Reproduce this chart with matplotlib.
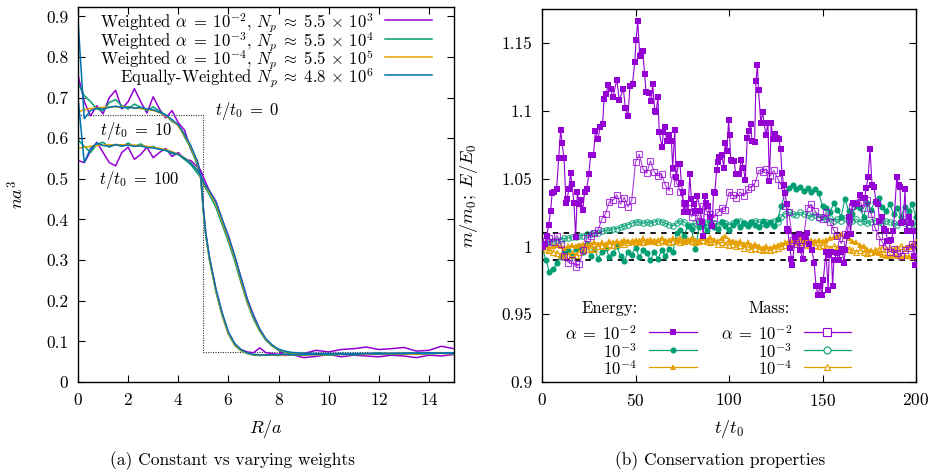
import numpy as np
import matplotlib
matplotlib.use("Agg")
import matplotlib.pyplot as plt

plt.rcParams.update({
    "font.family": "serif",
    "font.serif": ["cmr10", "DejaVu Serif"],
    "mathtext.fontset": "cm",
    "axes.formatter.use_mathtext": True,
    "font.size": 12.5,
})

PURPLE = "#9400D3"
GREEN = "#009E73"
ORANGE = "#E69F00"
BLUE = "#0072B2"

# ---------------- (a) density profiles ----------------
R_grid = [0, 0.25, 0.5, 0.75, 1.0, 1.25, 1.5, 1.75, 2.0, 2.25,
          2.5, 2.75, 3.0, 3.25, 3.5, 3.75, 4.0, 4.25, 4.5, 4.75,
          4.9, 5.0, 5.1, 5.25, 5.5, 5.75, 6.0, 6.25, 6.5, 6.75,
          7.0, 7.25, 7.5, 7.75, 8.0, 8.25, 8.5, 9.0, 9.5, 10.0,
          10.5, 11.0, 11.5, 12.0, 12.5, 13.0, 13.5, 14.0, 14.5, 15.0]

R_init = [0, 5, 5, 15]
n_init = [0.658, 0.658, 0.073, 0.073]

pu10 = [0.756, 0.690, 0.655, 0.680, 0.660, 0.700, 0.718, 0.672, 0.690, 0.722,
        0.690, 0.662, 0.702, 0.672, 0.650, 0.668, 0.638, 0.620, 0.572, 0.545,
        0.515, 0.430, 0.365, 0.305, 0.228, 0.170, 0.118, 0.094, 0.080, 0.074,
        0.072, 0.084, 0.072, 0.070, 0.068, 0.075, 0.066, 0.070, 0.078, 0.074,
        0.080, 0.082, 0.086, 0.080, 0.082, 0.085, 0.076, 0.078, 0.088, 0.082]
gr10 = [0.735, 0.705, 0.690, 0.672, 0.668, 0.688, 0.695, 0.680, 0.672, 0.684,
        0.676, 0.668, 0.677, 0.667, 0.657, 0.641, 0.633, 0.603, 0.575, 0.535,
        0.498, 0.418, 0.358, 0.298, 0.222, 0.163, 0.118, 0.090, 0.077, 0.070,
        0.066, 0.065, 0.067, 0.066, 0.065, 0.068, 0.067, 0.066, 0.069, 0.067,
        0.070, 0.068, 0.069, 0.071, 0.068, 0.070, 0.069, 0.071, 0.072, 0.070]
or10 = [0.665, 0.670, 0.673, 0.675, 0.676, 0.677, 0.677, 0.677, 0.676, 0.675,
        0.673, 0.671, 0.668, 0.663, 0.655, 0.644, 0.630, 0.607, 0.578, 0.540,
        0.500, 0.420, 0.360, 0.300, 0.225, 0.165, 0.120, 0.092, 0.078, 0.071,
        0.067, 0.066, 0.066, 0.066, 0.066, 0.067, 0.067, 0.067, 0.067, 0.068,
        0.068, 0.068, 0.068, 0.069, 0.069, 0.069, 0.069, 0.070, 0.070, 0.070]
bl10 = [0.890, 0.648, 0.668, 0.674, 0.672, 0.676, 0.679, 0.675, 0.677, 0.674,
        0.676, 0.672, 0.670, 0.664, 0.657, 0.646, 0.633, 0.610, 0.582, 0.545,
        0.505, 0.425, 0.365, 0.305, 0.230, 0.170, 0.124, 0.095, 0.080, 0.072,
        0.068, 0.067, 0.066, 0.067, 0.067, 0.068, 0.067, 0.068, 0.068, 0.069,
        0.069, 0.068, 0.070, 0.069, 0.070, 0.070, 0.071, 0.070, 0.071, 0.071]

pu100 = [0.545, 0.540, 0.568, 0.590, 0.565, 0.540, 0.532, 0.565, 0.578, 0.548,
         0.560, 0.578, 0.552, 0.565, 0.575, 0.555, 0.565, 0.548, 0.545, 0.530,
         0.520, 0.505, 0.490, 0.470, 0.445, 0.400, 0.360, 0.310, 0.258, 0.205,
         0.165, 0.130, 0.105, 0.090, 0.078, 0.065, 0.068, 0.060, 0.063, 0.068,
         0.062, 0.066, 0.064, 0.062, 0.066, 0.064, 0.060, 0.066, 0.064, 0.068]
gr100 = [0.596, 0.580, 0.565, 0.585, 0.590, 0.578, 0.585, 0.580, 0.588, 0.580,
         0.586, 0.577, 0.580, 0.573, 0.570, 0.562, 0.560, 0.548, 0.535, 0.515,
         0.503, 0.487, 0.476, 0.460, 0.430, 0.388, 0.345, 0.298, 0.245, 0.195,
         0.155, 0.125, 0.102, 0.088, 0.078, 0.073, 0.070, 0.067, 0.068, 0.066,
         0.068, 0.067, 0.069, 0.068, 0.070, 0.069, 0.068, 0.070, 0.071, 0.070]
or100 = [0.575, 0.578, 0.580, 0.582, 0.583, 0.584, 0.584, 0.584, 0.584, 0.583,
         0.582, 0.580, 0.578, 0.575, 0.572, 0.567, 0.561, 0.552, 0.540, 0.522,
         0.508, 0.490, 0.480, 0.465, 0.438, 0.395, 0.352, 0.305, 0.250, 0.198,
         0.158, 0.127, 0.104, 0.089, 0.080, 0.075, 0.072, 0.070, 0.069, 0.069,
         0.069, 0.069, 0.069, 0.070, 0.070, 0.070, 0.070, 0.071, 0.071, 0.071]
bl100 = [0.700, 0.540, 0.575, 0.588, 0.582, 0.580, 0.584, 0.581, 0.583, 0.580,
         0.581, 0.577, 0.576, 0.573, 0.570, 0.565, 0.560, 0.551, 0.539, 0.522,
         0.509, 0.493, 0.483, 0.469, 0.443, 0.401, 0.358, 0.311, 0.256, 0.204,
         0.162, 0.130, 0.106, 0.091, 0.081, 0.076, 0.073, 0.071, 0.070, 0.070,
         0.070, 0.070, 0.070, 0.071, 0.070, 0.071, 0.071, 0.072, 0.071, 0.072]

legend_a = [r"Weighted $\alpha\;=\;10^{-2}$, $N_p\;\approx\;5.5\,\times\,10^{3}$",
            r"Weighted $\alpha\;=\;10^{-3}$, $N_p\;\approx\;5.5\,\times\,10^{4}$",
            r"Weighted $\alpha\;=\;10^{-4}$, $N_p\;\approx\;5.5\,\times\,10^{5}$",
            r"Equally-Weighted $N_p\;\approx\;4.8\,\times\,10^{6}$"]

# ---------------- (b) conservation ----------------
t_e2 = [0, 1.4, 2.5, 3.6, 4.6, 5.4, 6.5, 7.8, 8.9, 10.0,
        10.7, 11.8, 12.8, 13.5, 14.3, 15.3, 16.0, 17.1, 18.0, 18.9,
        19.8, 20.7, 21.8, 22.8, 23.9, 25.0, 26.0, 27.5, 28.5, 30.0,
        31.0, 32.4, 33.2, 34.3, 35.3, 36.7, 38.0, 40.0, 41.3, 43.5,
        44.6, 46.0, 47.0, 48.4, 49.6, 50.3, 51.2, 52.3, 53.1, 53.8,
        54.9, 55.6, 57.0, 58.5, 59.2, 60.3, 61.0, 62.0, 62.7, 64.2,
        64.9, 65.6, 66.7, 67.7, 69.2, 69.9, 71.0, 71.7, 73.1, 73.8,
        74.5, 75.2, 75.8, 76.7, 78.1, 79.0, 79.9, 81.3, 82.0, 83.1,
        84.7, 85.6, 86.2, 87.0, 87.7, 88.8, 90.0, 90.9, 91.8, 92.3,
        93.4, 94.1, 94.8, 96.3, 97.2, 98.0, 98.9, 99.8, 100.3, 100.9,
        101.6, 102.7, 103.7, 105.2, 106.6, 107.7, 108.7, 109.8, 110.5, 111.6,
        112.3, 113.7, 114.4, 115.2, 115.8, 117.0, 118.0, 118.7, 119.8, 120.8,
        121.6, 122.6, 123.3, 124.4, 125.5, 126.6, 127.6, 128.3, 129.4, 130.1,
        130.8, 131.2, 131.5, 132.6, 133.3, 133.7, 135.5, 137.2, 138.0, 139.4,
        140.8, 141.9, 143.0, 144.4, 145.5, 146.5, 147.6, 148.7, 149.7, 150.4,
        151.9, 153.0, 153.6, 154.7, 155.4, 156.1, 157.6, 158.7, 159.7, 160.4,
        161.5, 162.2, 163.2, 164.3, 165.0, 166.1, 167.2, 168.6, 170.0, 171.5,
        172.6, 173.3, 174.4, 175.4, 176.5, 177.5, 178.6, 179.7, 180.4, 181.8,
        182.9, 184.0, 184.7, 185.8, 186.8, 187.9, 189.7, 190.8, 191.4, 192.1,
        193.2, 194.1, 195.0, 196.1, 197.2, 198.6, 199.0, 199.7]
E_a2 = [1.000, 1.002, 1.008, 1.016, 1.026, 1.039, 1.040, 1.042, 1.065, 1.086,
        1.076, 1.065, 1.032, 1.035, 1.042, 1.054, 1.046, 1.032, 1.007, 1.040,
        1.031, 1.034, 1.027, 1.040, 1.042, 1.053, 1.067, 1.067, 1.085, 1.079,
        1.088, 1.090, 1.109, 1.112, 1.119, 1.116, 1.110, 1.123, 1.108, 1.116,
        1.102, 1.096, 1.118, 1.120, 1.136, 1.152, 1.166, 1.140, 1.141, 1.144,
        1.127, 1.114, 1.113, 1.107, 1.120, 1.100, 1.099, 1.110, 1.084, 1.073,
        1.084, 1.088, 1.078, 1.082, 1.078, 1.058, 1.086, 1.051, 1.061, 1.061,
        1.047, 1.040, 1.025, 1.032, 1.025, 1.053, 1.035, 1.031, 1.026, 1.037,
        1.026, 1.018, 1.008, 1.037, 1.032, 1.030, 1.022, 1.015, 1.040, 1.039,
        1.056, 1.062, 1.066, 1.067, 1.058, 1.076, 1.070, 1.093, 1.082, 1.064,
        1.063, 1.063, 1.053, 1.053, 1.064, 1.058, 1.049, 1.080, 1.085, 1.090,
        1.078, 1.077, 1.122, 1.134, 1.115, 1.091, 1.099, 1.091, 1.082, 1.091,
        1.048, 1.091, 1.079, 1.083, 1.080, 1.079, 1.072, 1.054, 1.045, 1.039,
        1.031, 1.013, 1.011, 0.999, 0.991, 0.986, 1.007, 1.009, 0.997, 0.991,
        1.007, 1.010, 1.002, 0.997, 0.988, 0.971, 0.964, 0.971, 0.964, 0.975,
        0.996, 0.968, 0.994, 0.996, 0.971, 0.990, 0.995, 0.990, 0.996, 0.998,
        0.988, 0.997, 1.008, 1.022, 1.009, 1.032, 1.031, 1.031, 1.038, 1.036,
        1.036, 1.043, 1.051, 1.072, 1.045, 1.044, 1.033, 1.031, 1.019, 1.022,
        1.013, 1.011, 1.004, 1.004, 1.005, 1.011, 1.051, 1.045, 1.044, 1.017,
        1.018, 1.042, 1.011, 1.022, 1.017, 1.011, 0.993, 0.986]

t_grid = np.arange(0, 201, 2)
M_a2 = [1.000, 1.004, 1.006, 1.003, 1.008, 1.002, 0.993, 0.988, 0.990, 0.985,
        0.987, 0.997, 1.006, 1.008, 1.010, 1.012, 1.020, 1.024, 1.033, 1.034,
        1.038, 1.031, 1.036, 1.029, 1.034, 1.062, 1.068, 1.057, 1.054, 1.063,
        1.055, 1.052, 1.053, 1.045, 1.041, 1.053, 1.047, 1.040, 1.032, 1.028,
        1.022, 1.025, 1.019, 1.030, 1.026, 1.024, 1.021, 1.025, 1.028, 1.027,
        1.040, 1.038, 1.036, 1.040, 1.037, 1.042, 1.044, 1.047, 1.056, 1.055,
        1.057, 1.052, 1.056, 1.050, 1.045, 1.030, 1.025, 1.005, 1.002, 1.000,
        1.008, 1.028, 1.031, 1.026, 1.022, 1.020, 1.025, 1.018, 1.012, 1.008,
        1.002, 1.009, 1.020, 1.030, 1.032, 1.033, 1.028, 1.034, 1.024, 1.014,
        1.008, 1.003, 1.000, 0.996, 0.998, 0.995, 0.993, 0.997, 0.999, 1.002,
        0.997]
E_a3 = [1.000, 0.990, 0.981, 0.983, 0.988, 0.992, 0.995, 0.997, 0.993, 0.998,
        1.000, 0.996, 1.002, 0.993, 0.998, 0.991, 0.996, 0.999, 0.992, 0.995,
        1.000, 0.993, 0.989, 0.996, 0.994, 0.999, 0.992, 0.997, 0.995, 0.990,
        0.996, 0.991, 0.997, 0.993, 0.998, 0.996, 1.010, 1.012, 1.008, 1.015,
        1.013, 0.998, 1.014, 1.016, 1.012, 1.017, 1.014, 1.013, 1.018, 1.015,
        1.012, 1.016, 1.019, 1.014, 1.017, 1.015, 1.018, 1.016, 1.014, 1.019,
        1.016, 1.018, 1.015, 1.020, 1.030, 1.040, 1.043, 1.045, 1.042, 1.044,
        1.041, 1.043, 1.040, 1.042, 1.039, 1.030, 1.028, 1.025, 1.032, 1.027,
        1.022, 1.035, 1.026, 1.024, 1.030, 1.028, 1.022, 1.032, 1.027, 1.033,
        1.036, 1.029, 1.026, 1.031, 1.024, 1.028, 1.022, 1.029, 1.026, 1.031,
        1.022]
M_a3 = [1.000, 1.002, 1.003, 1.004, 1.004, 1.005, 1.006, 1.006, 1.007, 1.007,
        1.008, 1.008, 1.009, 1.009, 1.010, 1.010, 1.011, 1.012, 1.012, 1.013,
        1.013, 1.014, 1.015, 1.016, 1.017, 1.018, 1.018, 1.017, 1.018, 1.017,
        1.018, 1.019, 1.018, 1.017, 1.016, 1.015, 1.017, 1.019, 1.018, 1.016,
        1.015, 1.017, 1.018, 1.016, 1.018, 1.019, 1.017, 1.016, 1.018, 1.017,
        1.016, 1.017, 1.018, 1.019, 1.017, 1.016, 1.018, 1.019, 1.018, 1.017,
        1.018, 1.017, 1.019, 1.018, 1.022, 1.024, 1.025, 1.024, 1.023, 1.025,
        1.024, 1.023, 1.022, 1.023, 1.021, 1.022, 1.020, 1.021, 1.019, 1.020,
        1.019, 1.021, 1.018, 1.019, 1.020, 1.018, 1.019, 1.017, 1.018, 1.019,
        1.018, 1.017, 1.019, 1.018, 1.017, 1.016, 1.018, 1.017, 1.016, 1.017,
        1.016]
E_a4 = [1.000, 1.001, 0.999, 1.000, 1.001, 1.000, 0.999, 1.000, 1.001, 1.000,
        1.001, 1.002, 1.001, 1.002, 1.003, 1.002, 1.003, 1.002, 1.004, 1.003,
        1.004, 1.003, 1.005, 1.004, 1.003, 1.005, 1.004, 1.006, 1.004, 1.005,
        1.004, 1.005, 1.006, 1.004, 1.005, 1.006, 1.005, 1.006, 1.004, 1.005,
        1.006, 1.005, 1.004, 1.006, 1.005, 1.007, 1.005, 1.004, 1.006, 1.008,
        1.005, 1.004, 1.003, 1.004, 1.002, 1.003, 1.001, 1.002, 1.000, 0.999,
        1.000, 0.999, 1.000, 1.001, 1.002, 1.003, 1.004, 1.005, 1.004, 1.006,
        1.005, 1.004, 1.005, 1.004, 1.005, 1.004, 1.005, 1.006, 1.007, 1.008,
        1.009, 1.008, 1.006, 1.004, 1.003, 1.001, 1.000, 0.998, 0.997, 0.996,
        0.995, 0.994, 0.993, 0.993, 0.994, 0.993, 0.992, 0.993, 0.993, 0.992,
        0.993]
M_a4 = [1.000, 0.998, 0.997, 0.996, 0.995, 0.994, 0.993, 0.994, 0.995, 0.994,
        0.996, 0.997, 0.998, 0.999, 0.998, 1.000, 1.001, 1.000, 1.002, 1.001,
        1.002, 1.003, 1.002, 1.003, 1.004, 1.003, 1.004, 1.003, 1.004, 1.005,
        1.004, 1.003, 1.005, 1.004, 1.003, 1.004, 1.005, 1.003, 1.004, 1.005,
        1.004, 1.003, 1.004, 1.005, 1.004, 1.003, 1.004, 1.002, 1.003, 1.002,
        1.001, 1.002, 1.000, 1.001, 0.999, 1.000, 0.998, 0.999, 0.998, 0.997,
        0.998, 0.997, 0.998, 0.999, 1.000, 1.001, 1.002, 1.003, 1.002, 1.003,
        1.002, 1.001, 1.002, 1.001, 1.000, 1.001, 1.000, 0.999, 1.000, 0.999,
        0.998, 0.999, 0.998, 0.997, 0.996, 0.997, 0.996, 0.995, 0.996, 0.997,
        0.998, 0.999, 0.998, 0.999, 0.998, 0.999, 1.000, 0.999, 1.000, 1.001,
        1.003]

tol_hi, tol_lo = 1.01, 0.99
alpha_labels = [r"$\alpha\;=\;10^{-2}$", r"$10^{-3}$", r"$10^{-4}$"]

# ---------------- figure ----------------
W, H = 930, 476
fig = plt.figure(figsize=(W / 100, H / 100), dpi=100)

def frac(x0, y0, x1, y1):
    return [x0 / W, 1 - y1 / H, (x1 - x0) / W, (y1 - y0) / H]

axA = fig.add_axes(frac(78, 7, 454, 382))
axB = fig.add_axes(frac(542, 9, 916, 382))

TXT = 12
for ax in (axA, axB):
    ax.tick_params(direction="in", top=True, right=True, length=5, width=0.8,
                   labelsize=12.5, pad=7)
    for s in ax.spines.values():
        s.set_linewidth(1.0)

# (a)
axA.plot(R_init, n_init, ls=(0, (1, 1.2)), color="#333333", lw=0.8, zorder=1)
lw = 1.1
for n10, n100, c in ((pu10, pu100, PURPLE), (gr10, gr100, GREEN),
                     (or10, or100, ORANGE), (bl10, bl100, BLUE)):
    axA.plot(R_grid, n10, color=c, lw=lw, zorder=2)
    axA.plot(R_grid, n100, color=c, lw=lw, zorder=2)

axA.set_xlim(0, 15)
axA.set_ylim(0, 0.923)
axA.set_xticks(range(0, 15, 2))
axA.set_yticks([0, 0.1, 0.2, 0.3, 0.4, 0.5, 0.6, 0.7, 0.8, 0.9])
axA.set_yticklabels(["0", "0.1", "0.2", "0.3", "0.4", "0.5", "0.6", "0.7", "0.8", "0.9"])
axA.set_xlabel(r"$R/a$", fontsize=13)
axA.set_ylabel(r"$na^3$", fontsize=13)
axA.xaxis.set_label_coords((266 - 78) / 376, -(418 - 382) / 375)
axA.yaxis.set_label_coords((26 - 78) / 376, 0.5)

axA.text(6.75, 0.668, r"$t/t_0\;=\;0$", ha="center", va="center", fontsize=TXT)
axA.text(2.3, 0.618, r"$t/t_0\;=\;10$", ha="center", va="center", fontsize=TXT)
axA.text(2.45, 0.497, r"$t/t_0\;=\;100$", ha="center", va="center", fontsize=TXT)

leg_cols = [PURPLE, GREEN, ORANGE, BLUE]
leg_y = [0.965, 0.916, 0.867, 0.819]
for lab, c, y in zip(legend_a, leg_cols, leg_y):
    axA.text(0.785, y, lab, transform=axA.transAxes, ha="right",
             va="center_baseline", fontsize=TXT)
    axA.plot([0.816, 0.941], [y, y], transform=axA.transAxes, color=c,
             lw=lw, clip_on=False)

# (b)
axB.plot([0, 200], [tol_hi, tol_hi], ls=(0, (3, 3)), color="black", lw=1.3, zorder=1)
axB.plot([0, 200], [tol_lo, tol_lo], ls=(0, (3, 3)), color="black", lw=1.3, zorder=1)

axB.plot(t_grid, E_a3, color=GREEN, lw=0.8, marker="o", ms=4.4, mew=0, zorder=2)
axB.plot(t_grid, M_a3, color=GREEN, lw=0.8, marker="o", ms=4.0, mfc="none",
         mew=0.8, zorder=2, alpha=0.85)
axB.plot(t_grid, M_a4, color=ORANGE, lw=0.8, marker="^", ms=4.0, mfc="none",
         mew=0.8, zorder=3)
axB.plot(t_grid, E_a4, color=ORANGE, lw=0.8, marker="^", ms=4.2, mew=0, zorder=3)
axB.plot(t_grid, M_a2, color=PURPLE, lw=0.8, marker="s", ms=5.0, mfc="none",
         mew=0.8, zorder=4, alpha=0.75)
axB.plot(t_e2, E_a2, color=PURPLE, lw=0.8, marker="s", ms=4.8, mew=0, zorder=5)

axB.set_xlim(0, 200)
axB.set_ylim(0.9, 1.175)
axB.set_xticks([0, 50, 100, 150, 200])
axB.set_yticks([0.9, 0.95, 1.0, 1.05, 1.1, 1.15])
axB.set_yticklabels(["0.9", "0.95", "1", "1.05", "1.1", "1.15"])
axB.set_xlabel(r"$t/t_0$", fontsize=13)
axB.set_ylabel(r"$m/m_0;\; E/E_0$", fontsize=13)
axB.xaxis.set_label_coords((729 - 542) / 374, -(418 - 382) / 373)
axB.yaxis.set_label_coords((480 - 542) / 374, 0.5)

# legend of (b)
axB.text(0.257, 0.201, "Energy:", transform=axB.transAxes, ha="right",
         va="center_baseline", fontsize=TXT)
axB.text(0.663, 0.201, "Mass:", transform=axB.transAxes, ha="right",
         va="center_baseline", fontsize=TXT)
rows_y = [0.135, 0.086, 0.041]
specs_E = [(PURPLE, "s", 4.8), (GREEN, "o", 4.4), (ORANGE, "^", 4.2)]
for lab, (c, m, ms), y in zip(alpha_labels, specs_E, rows_y):
    axB.text(0.253, y, lab, transform=axB.transAxes, ha="right",
             va="center_baseline", fontsize=TXT)
    axB.plot([0.286, 0.414], [y, y], transform=axB.transAxes, color=c,
             lw=0.9, clip_on=False)
    axB.plot([0.350], [y], transform=axB.transAxes, color=c, marker=m,
             ms=ms, mew=0, clip_on=False)
    axB.text(0.668, y, lab, transform=axB.transAxes, ha="right",
             va="center_baseline", fontsize=TXT)
    axB.plot([0.701, 0.826], [y, y], transform=axB.transAxes, color=c,
             lw=0.9, clip_on=False)
    axB.plot([0.763], [y], transform=axB.transAxes, color=c, marker=m,
             ms=ms + 0.6, mfc="white", mew=0.8, clip_on=False)

fig.text(232 / W, 1 - 461 / H, "(a) Constant vs varying weights",
         ha="center", va="center", fontsize=12.5)
fig.text(720 / W, 1 - 461 / H, "(b) Conservation properties",
         ha="center", va="center", fontsize=12.5)

fig.savefig("out.png", dpi=100)
